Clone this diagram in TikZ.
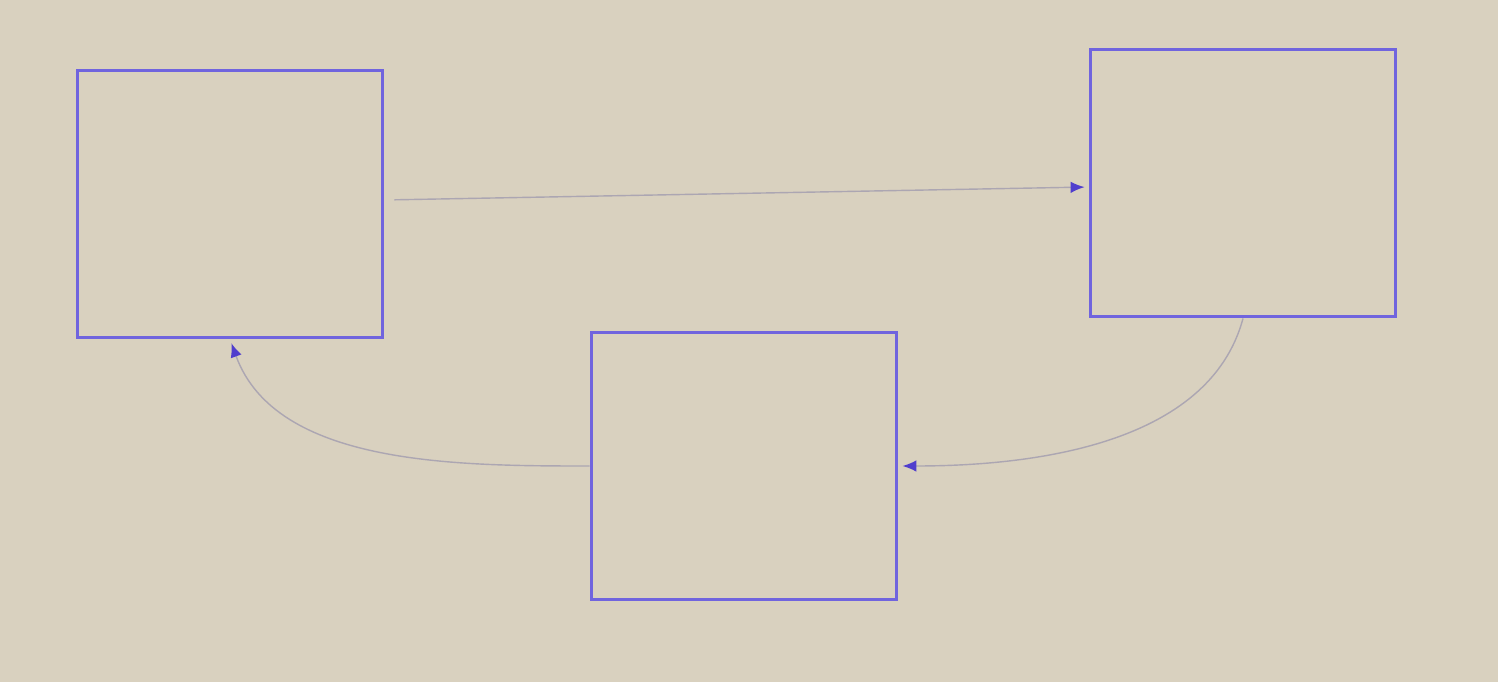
\documentclass[tikz,border=0pt]{standalone}
\usetikzlibrary{arrows.meta}

\definecolor{paper}{RGB}{217,209,191}
\definecolor{boxblue}{RGB}{112,100,222}
\definecolor{tipblue}{RGB}{80,62,205}
\definecolor{wire}{RGB}{172,166,178}

\tikzset{
  panel/.style={draw=boxblue,line width=2.2pt,minimum width=6.1cm,minimum height=5.34cm,inner sep=0pt},
  link/.style={draw=wire,line width=0.8pt,-{Latex[color=tipblue,length=2.8mm,width=2.3mm]},shorten >=0.8mm}
}

\begin{document}
\begin{tikzpicture}[x=0.02cm,y=-0.02cm]
    \fill[paper] (0,0) rectangle (1498,682);
    \useasboundingbox (0,0) rectangle (1498,682);
	\node[panel] (left) at (230,204) {};
	\node[panel] (right) at (1243,183) {};
	\node[panel] (bottom) at (744,466) {};
	%\draw[link] (left) -- (right);
	\draw[link,shorten <=2mm] ([yshift=0.08cm]left.east) -- ([yshift=-0.08cm]right.west);
	\draw[link] (right.south) to[out=-105,in=0,looseness=0.9] (bottom.east);
	\draw[link] (bottom.west) to[out=180,in=-70,looseness=0.9] (left.south);
\end{tikzpicture}
\end{document}
